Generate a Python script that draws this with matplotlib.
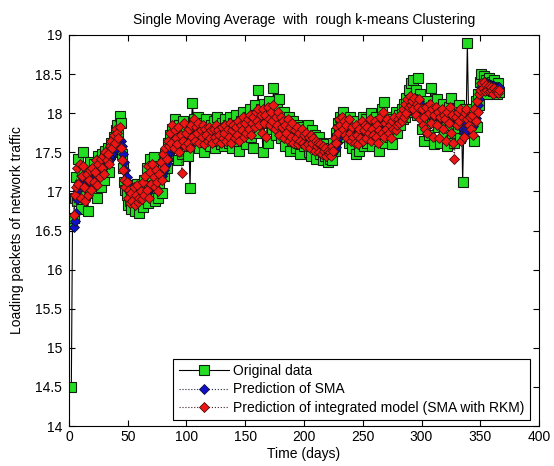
import numpy as np
import matplotlib
matplotlib.use('Agg')
import matplotlib.pyplot as plt
from matplotlib.ticker import FuncFormatter

plt.rcParams['font.family'] = ['Liberation Sans', 'DejaVu Sans']

nan = np.nan

# original daily traffic (days 1..365)
original = [
    14.50, 16.58, 16.66, 16.92, 17.18, 16.88, 17.42, 17.08, 16.78, 17.26,
    17.50, 17.12, 16.95, 17.30, 16.75, 17.05, 17.38, 17.22, 16.98, 17.35,
    17.10, 17.28, 16.92, 17.45, 17.20, 17.05, 17.48, 17.32, 17.15, 17.52,
    17.40, 17.55, 17.25, 17.48, 17.62, 17.50, 17.70, 17.58, 17.78, 17.85,
    17.72, 17.97, 17.88, 17.48, 17.30, 17.12, 17.02, 16.95, 16.82, 17.08,
    16.88, 16.78, 17.05, 16.92, 16.75, 16.98, 17.10, 16.85, 16.72, 16.95,
    17.02, 16.80, 17.15, 16.90, 17.30, 16.85, 17.05, 17.42, 16.95, 17.20,
    17.44, 16.88, 17.10, 17.32, 16.92, 17.05, 17.25, 16.98, 17.35, 17.20,
    17.48, 17.30, 17.62, 17.45, 17.72, 17.55, 17.80, 17.65, 17.93, 17.58,
    17.75, 17.40, 17.85, 17.62, 17.48, 17.90, 17.70, 17.55, 17.82, 17.45,
    17.68, 17.04, 17.78, 18.13, 17.92, 17.60, 17.85, 17.72, 17.95, 17.55,
    17.80, 17.68, 17.88, 17.50, 17.75, 17.92, 17.62, 17.80, 17.58, 17.85,
    17.72, 17.90, 17.55, 17.78, 17.95, 17.65, 17.82, 17.60, 17.88, 17.75,
    17.58, 17.92, 17.70, 17.85, 17.62, 17.95, 17.78, 17.55, 17.88, 17.72,
    17.98, 17.65, 17.85, 17.52, 17.90, 17.78, 18.02, 17.68, 17.88, 17.60,
    17.95, 17.82, 18.05, 17.70, 17.92, 17.55, 18.10, 17.85, 17.98, 18.30,
    17.75, 18.05, 17.92, 17.50, 18.12, 17.88, 18.00, 17.62, 18.15, 17.90,
    18.05, 17.80, 18.32, 17.95, 17.72, 18.08, 17.85, 18.18, 17.68, 17.92,
    17.78, 18.02, 17.58, 17.85, 17.70, 17.95, 17.52, 17.80, 17.65, 17.90,
    17.72, 17.55, 17.85, 17.62, 17.78, 17.48, 17.82, 17.68, 17.58, 17.75,
    17.62, 17.85, 17.50, 17.70, 17.45, 17.78, 17.60, 17.72, 17.42, 17.65,
    17.58, 17.70, 17.48, 17.62, 17.40, 17.55, 17.45, 17.60, 17.38, 17.50,
    17.42, 17.55, 17.40, 17.62, 17.52, 17.75, 17.68, 17.88, 17.80, 17.95,
    17.85, 18.02, 17.78, 17.92, 17.70, 17.88, 17.62, 17.95, 17.75, 17.55,
    17.85, 17.68, 17.48, 17.90, 17.72, 17.52, 17.82, 17.65, 17.95, 17.58,
    17.78, 17.92, 17.62, 17.85, 17.70, 18.00, 17.58, 17.82, 17.75, 17.95,
    17.68, 17.88, 17.52, 17.80, 18.05, 17.72, 18.14, 17.62, 17.90, 17.78,
    17.95, 17.70, 17.85, 17.60, 17.92, 17.82, 18.02, 17.75, 17.88, 17.98,
    17.85, 18.05, 17.92, 18.12, 17.95, 18.20, 18.02, 18.30, 18.10, 18.38,
    18.15, 18.42, 18.05, 18.30, 17.98, 18.45, 18.12, 18.25, 17.80, 18.08,
    17.65, 18.02, 17.88, 18.15, 17.72, 18.05, 18.32, 17.92, 18.10, 17.60,
    17.98, 18.18, 17.82, 18.05, 17.62, 17.95, 18.12, 17.75, 18.02, 17.90,
    17.58, 18.08, 17.85, 18.20, 17.70, 17.98, 17.62, 18.05, 17.90, 17.78,
    18.10, 17.68, 18.02, 17.12, 17.80, 18.05, 17.95, 18.90, 18.00, 17.88,
    17.75, 18.05, 17.92, 17.65, 18.15, 17.82, 18.25, 18.10, 18.40, 18.50,
    18.35, 18.48, 18.30, 18.42, 18.25, 18.45, 18.38, 18.30, 18.40, 18.28,
    18.42, 18.35, 18.25, 18.38, 18.27,
]

# single moving average prediction
sma = [
    nan, nan, 16.55, 16.62, 16.72, 16.90, 17.02, 17.10, 17.12, 17.14,
    17.18, 17.20, 17.17, 17.15, 17.12, 17.10, 17.12, 17.16, 17.18, 17.20,
    17.22, 17.22, 17.20, 17.22, 17.25, 17.24, 17.26, 17.30, 17.32, 17.34,
    17.36, 17.38, 17.40, 17.42, 17.45, 17.48, 17.52, 17.56, 17.60, 17.63,
    17.65, 17.66, 17.64, 17.58, 17.48, 17.38, 17.28, 17.18, 17.10, 17.02,
    16.98, 16.95, 16.92, 16.90, 16.89, 16.90, 16.91, 16.90, 16.89, 16.90,
    16.92, 16.93, 16.94, 16.95, 16.98, 17.00, 17.02, 17.05, 17.06, 17.08,
    17.10, 17.12, 17.12, 17.14, 17.15, 17.16, 17.18, 17.20, 17.24, 17.28,
    17.32, 17.36, 17.42, 17.48, 17.52, 17.56, 17.60, 17.62, 17.65, 17.66,
    17.68, 17.66, 17.64, 17.62, 17.60, 17.62, 17.64, 17.66, 17.68, 17.66,
    17.62, 17.58, 17.60, 17.66, 17.72, 17.76, 17.78, 17.78, 17.76, 17.74,
    17.75, 17.74, 17.73, 17.72, 17.72, 17.73, 17.74, 17.74, 17.73, 17.73,
    17.74, 17.75, 17.74, 17.74, 17.75, 17.76, 17.76, 17.75, 17.75, 17.76,
    17.75, 17.75, 17.76, 17.77, 17.76, 17.76, 17.77, 17.77, 17.76, 17.77,
    17.78, 17.78, 17.79, 17.78, 17.78, 17.79, 17.80, 17.80, 17.80, 17.81,
    17.82, 17.83, 17.84, 17.85, 17.85, 17.86, 17.86, 17.87, 17.88, 17.90,
    17.92, 17.92, 17.93, 17.92, 17.92, 17.93, 17.94, 17.93, 17.92, 17.93,
    17.94, 17.95, 17.96, 17.96, 17.95, 17.94, 17.93, 17.92, 17.91, 17.90,
    17.88, 17.87, 17.86, 17.84, 17.82, 17.80, 17.79, 17.78, 17.77, 17.76,
    17.75, 17.74, 17.73, 17.72, 17.71, 17.70, 17.70, 17.69, 17.68, 17.68,
    17.67, 17.67, 17.66, 17.65, 17.64, 17.64, 17.63, 17.62, 17.61, 17.60,
    17.60, 17.59, 17.58, 17.57, 17.56, 17.55, 17.54, 17.53, 17.52, 17.51,
    17.50, 17.49, 17.48, 17.50, 17.53, 17.57, 17.62, 17.68, 17.73, 17.78,
    17.81, 17.83, 17.84, 17.84, 17.83, 17.82, 17.81, 17.80, 17.79, 17.78,
    17.77, 17.76, 17.75, 17.75, 17.75, 17.75, 17.75, 17.76, 17.76, 17.77,
    17.77, 17.78, 17.78, 17.79, 17.79, 17.80, 17.80, 17.80, 17.81, 17.81,
    17.81, 17.82, 17.82, 17.82, 17.83, 17.83, 17.84, 17.84, 17.84, 17.85,
    17.85, 17.85, 17.86, 17.86, 17.86, 17.87, 17.88, 17.88, 17.89, 17.90,
    17.91, 17.92, 17.94, 17.96, 17.98, 18.00, 18.03, 18.06, 18.09, 18.12,
    18.14, 18.16, 18.17, 18.18, 18.18, 18.17, 18.15, 18.12, 18.09, 18.06,
    18.03, 18.01, 18.00, 17.99, 17.98, 17.98, 17.98, 17.99, 17.99, 17.98,
    17.98, 17.97, 17.97, 17.96, 17.96, 17.95, 17.95, 17.94, 17.94, 17.94,
    17.93, 17.93, 17.92, 17.92, 17.91, 17.91, 17.90, 17.90, 17.89, 17.88,
    17.87, 17.86, 17.85, 17.80, 17.76, 17.74, 17.78, 17.88, 17.92, 17.90,
    17.85, 17.82, 17.84, 17.88, 17.94, 18.02, 18.10, 18.18, 18.26, 18.33,
    18.38, 18.40, 18.40, 18.39, 18.38, 18.37, 18.36, 18.36, 18.35, 18.35,
    18.35, 18.34, 18.34, 18.33, 18.33,
]

# integrated model prediction (SMA with rough k-means)
rkm = [
    nan, nan, 16.70, 16.95, 17.05, 17.30, 17.10, 17.35, 16.92, 17.20,
    17.32, 17.05, 16.88, 17.22, 16.95, 17.15, 17.28, 17.02, 17.30, 17.12,
    17.25, 17.40, 17.08, 17.35, 17.18, 17.42, 17.30, 17.45, 17.22, 17.50,
    17.40, 17.48, 17.35, 17.58, 17.65, 17.55, 17.72, 17.62, 17.80, 17.75,
    17.68, 17.82, 17.55, 17.40, 17.28, 17.15, 17.05, 17.12, 16.92, 17.02,
    16.85, 16.98, 16.88, 17.05, 16.82, 16.95, 17.08, 16.86, 16.92, 17.00,
    16.90, 17.12, 16.95, 17.20, 17.02, 17.32, 16.92, 17.25, 17.10, 17.35,
    17.18, 17.05, 17.28, 17.12, 17.00, 17.22, 17.38, 17.15, 17.48, 17.30,
    17.55, 17.42, 17.65, 17.58, 17.75, 17.62, 17.85, 17.55, 17.78, 17.68,
    17.60, 17.82, 17.50, 17.72, 17.24, 17.65, 17.88, 17.58, 17.75, 17.62,
    17.80, 17.55, 17.85, 17.70, 17.92, 17.65, 17.82, 17.75, 17.88, 17.62,
    17.78, 17.70, 17.85, 17.60, 17.80, 17.72, 17.65, 17.82, 17.68, 17.78,
    17.62, 17.80, 17.70, 17.85, 17.65, 17.78, 17.72, 17.62, 17.82, 17.68,
    17.75, 17.85, 17.65, 17.80, 17.70, 17.88, 17.62, 17.78, 17.85, 17.68,
    17.82, 17.72, 17.90, 17.65, 17.85, 17.78, 17.95, 17.70, 17.88, 17.75,
    17.92, 17.80, 17.98, 17.72, 17.88, 17.95, 17.82, 18.02, 17.90, 18.05,
    17.85, 17.98, 17.75, 18.05, 17.88, 17.98, 17.70, 18.08, 17.92, 17.85,
    18.02, 17.90, 18.10, 17.80, 17.95, 17.85, 18.02, 17.72, 17.95, 17.82,
    17.90, 17.68, 17.85, 17.75, 17.92, 17.65, 17.82, 17.70, 17.88, 17.62,
    17.78, 17.68, 17.82, 17.60, 17.75, 17.65, 17.80, 17.62, 17.72, 17.58,
    17.75, 17.60, 17.70, 17.55, 17.72, 17.62, 17.68, 17.52, 17.65, 17.58,
    17.62, 17.50, 17.60, 17.48, 17.58, 17.52, 17.55, 17.45, 17.52, 17.48,
    17.50, 17.45, 17.58, 17.52, 17.68, 17.62, 17.82, 17.75, 17.92, 17.85,
    17.95, 17.80, 17.90, 17.72, 17.85, 17.68, 17.92, 17.75, 17.65, 17.82,
    17.70, 17.62, 17.85, 17.72, 17.60, 17.80, 17.68, 17.90, 17.65, 17.78,
    17.85, 17.68, 17.82, 17.75, 17.92, 17.65, 17.80, 17.72, 17.90, 17.70,
    17.85, 17.62, 17.78, 17.95, 17.75, 18.02, 17.70, 17.88, 17.80, 17.92,
    17.75, 17.85, 17.68, 17.90, 17.80, 17.95, 17.78, 17.85, 17.92, 17.88,
    17.98, 17.90, 18.05, 17.95, 18.12, 18.00, 18.18, 18.08, 18.22, 18.10,
    18.15, 18.05, 18.20, 17.98, 18.12, 18.08, 18.18, 17.92, 18.05, 17.85,
    17.95, 17.80, 18.08, 17.75, 18.00, 18.12, 17.88, 18.05, 17.70, 17.98,
    18.08, 17.85, 18.02, 17.68, 17.95, 18.05, 17.80, 17.98, 17.92, 17.65,
    18.02, 17.88, 18.08, 17.75, 17.98, 17.62, 17.42, 17.95, 17.85, 18.02,
    17.90, 18.05, 17.65, 17.95, 17.70, 18.00, 18.05, 17.92, 17.85, 17.95,
    17.80, 17.98, 17.72, 18.05, 17.90, 18.15, 18.02, 18.25, 18.30, 18.38,
    18.32, 18.40, 18.28, 18.36, 18.30, 18.35, 18.28, 18.34, 18.30, 18.25,
    18.32, 18.28, 18.30, 18.26, 18.30,
]

days = np.arange(2, len(original) + 2)

fig = plt.figure(figsize=(5.54, 4.66), dpi=100)
ax = fig.add_axes([0.1245, 0.0858, 0.8485, 0.8391])

ax.plot(days, original, '-', color='k', lw=0.8, marker='s', ms=7,
        mfc='#22dd22', mec='#102010', mew=0.8, label='Original data', zorder=2)
ax.plot(days, sma, ':', color='#202040', lw=0.8, marker='D', ms=5,
        mfc='#1010cc', mec='#101030', mew=0.6, label='Prediction of SMA', zorder=3)
ax.plot(days, rkm, ':', color='#402020', lw=0.8, marker='D', ms=5.5,
        mfc='#ee1515', mec='#401010', mew=0.6,
        label='Prediction of integrated model (SMA with RKM)', zorder=4)

ax.set_xlim(0, 400)
ax.set_ylim(14, 19)
ax.set_xticks(np.arange(0, 401, 50))
ax.set_yticks(np.arange(14, 19.01, 0.5))
ax.yaxis.set_major_formatter(FuncFormatter(lambda v, p: '%g' % v))
ax.tick_params(direction='in', length=4, width=0.8, top=True, right=True,
               labelsize=10)
ax.tick_params(axis='y', pad=5)
ax.tick_params(axis='x', pad=3)
for s in ax.spines.values():
    s.set_linewidth(0.8)

ax.set_xlabel('Time (days)', fontsize=10, labelpad=2)
ax.set_ylabel('Loading packets of network traffic', fontsize=10, labelpad=8)
ax.set_title('Single Moving Average  with  rough k-means Clustering', fontsize=10, pad=8)

leg = ax.legend(loc='lower right', bbox_to_anchor=(0.981, 0.015), borderaxespad=0,
                fontsize=10, fancybox=False, framealpha=1, edgecolor='k',
                handlelength=3.6, labelspacing=0.3, borderpad=0.4, handletextpad=0.3)
leg.get_frame().set_linewidth(0.8)

fig.savefig('out.png', dpi=100)
